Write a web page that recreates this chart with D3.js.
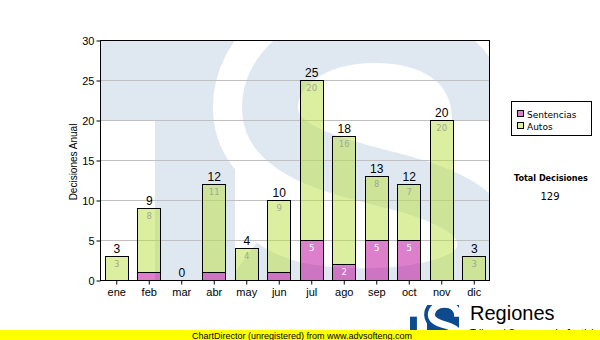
<!DOCTYPE html>
<html>
<head>
<meta charset="utf-8">
<script src="https://cdn.jsdelivr.net/npm/d3@7"></script>
<style>
  body { margin: 0; background: #fff; }
  svg { display: block; }
</style>
</head>
<body>
<svg id="chart" width="600" height="340"></svg>
<script>
// Monthly decisions, stacked by type
const months = ["ene", "feb", "mar", "abr", "may", "jun", "jul", "ago", "sep", "oct", "nov", "dic"];
const sentencias = [0, 1, 0, 1, 0, 1, 5, 2, 5, 5, 0, 0];
const autos = [3, 8, 0, 11, 4, 9, 20, 16, 8, 7, 20, 3];
const seriesNames = ["Sentencias", "Autos"];
const yTicks = [0, 5, 10, 15, 20, 25, 30];
const yTitle = "Decisiones Anual";
const totalTitle = "Total Decisiones";
const brandName = "Regiones";
const brandSub = "Tribunal Supremo de Justicia";
const footerText = "ChartDirector (unregistered) from www.advsofteng.com";

const rows = months.map((m, i) => ({ month: m, Sentencias: sentencias[i], Autos: autos[i] }));
const totals = rows.map(r => r.Sentencias + r.Autos);
const grandTotal = d3.sum(totals);

const svg = d3.select("#chart");
const plot = { left: 100, top: 40, right: 490, bottom: 280 };
const pw = plot.right - plot.left, ph = plot.bottom - plot.top;

const x = d3.scaleBand().domain(months).range([plot.left, plot.right])
  .paddingInner(0.3).paddingOuter(0.15);
const y = d3.scaleLinear().domain([0, 30]).range([plot.bottom, plot.top]);

const colors = {
  Sentencias: "rgba(188,0,150,0.5)",
  Autos: "rgba(186,222,64,0.5)"
};
const swatch = { Sentencias: "#dc7ecb", Autos: "#dcef9f" };

const SANS = "'Liberation Sans', Arial, sans-serif";
const VERD = "'DejaVu Sans', Verdana, sans-serif";

// ---- "TS" emblem in a 390 x 240 frame: letters in fg on a bg field ----
function emblem(g, ox, oy, w, h, fg, bg) {
  const sx = w / 390, sy = h / 240;
  const P = (a, b) => [ox + a * sx, oy + b * sy];
  g.append("rect").attr("x", ox).attr("y", oy).attr("width", w).attr("height", h).attr("fill", bg);
  // T: bar and stem
  g.append("rect").attr("x", ox).attr("y", oy)
    .attr("width", 200 * sx).attr("height", 80 * sy).attr("fill", fg);
  g.append("rect").attr("x", P(55, 0)[0]).attr("y", oy)
    .attr("width", 80 * sx).attr("height", 240 * sy).attr("fill", fg);
  // S spine
  const p = d3.path();
  const m = P(380, 80); p.moveTo(m[0], m[1]);
  const segs = [
    [[380, 20], [330, -5], [275, -5]],
    [[210, -5], [168, 30], [170, 70]],
    [[172, 110], [230, 125], [290, 140]],
    [[350, 155], [390, 175], [385, 210]],
    [[380, 250], [300, 260], [230, 255]],
    [[190, 252], [160, 240], [140, 225]]
  ];
  segs.forEach(s => {
    const a = P(...s[0]), b = P(...s[1]), c = P(...s[2]);
    p.bezierCurveTo(a[0], a[1], b[0], b[1], c[0], c[1]);
  });
  const k = Math.min(sx, sy);
  g.append("path").attr("d", p.toString()).attr("fill", "none")
    .attr("stroke", bg).attr("stroke-width", 114 * k);
  g.append("path").attr("d", p.toString()).attr("fill", "none")
    .attr("stroke", fg).attr("stroke-width", 56 * k);
}

// ---- plot background with emblem watermark ----
const defs = svg.append("defs");
defs.append("clipPath").attr("id", "plotClip")
  .append("rect").attr("x", plot.left).attr("y", plot.top).attr("width", pw).attr("height", ph);
defs.append("clipPath").attr("id", "logoClip")
  .append("rect").attr("x", 410).attr("y", 305).attr("width", 49).attr("height", 35);
const wm = svg.append("g").attr("clip-path", "url(#plotClip)");
emblem(wm, plot.left, plot.top, pw, ph, "#dfe8f1", "#ffffff");

// ---- gridlines ----
svg.append("g").selectAll("line").data(yTicks.filter(t => t > 0 && t < 30)).join("line")
  .attr("x1", plot.left).attr("x2", plot.right)
  .attr("y1", d => y(d) + 0.5).attr("y2", d => y(d) + 0.5)
  .attr("stroke", "#c0c0c0").attr("stroke-width", 1);

// ---- stacked bars ----
const stack = d3.stack().keys(seriesNames)(rows);
const barG = svg.append("g");
stack.forEach(layer => {
  const key = layer.key;
  const segs = layer.map((d, i) => ({ key, month: months[i], y0: d[0], y1: d[1], v: d[1] - d[0] }))
    .filter(d => d.v > 0);
  barG.append("g").selectAll("rect").data(segs).join("rect")
    .attr("x", d => Math.round(x(d.month)) + 0.5)
    .attr("y", d => y(d.y1) + 0.5)
    .attr("width", Math.round(x.bandwidth()))
    .attr("height", d => y(d.y0) - y(d.y1))
    .attr("fill", colors[key])
    .attr("stroke", "#000").attr("stroke-width", 1);
  // values inside each segment
  barG.append("g").selectAll("text").data(segs.filter(d => y(d.y0) - y(d.y1) >= 12)).join("text")
    .attr("x", d => x(d.month) + x.bandwidth() / 2 + 0.5)
    .attr("y", d => y(d.y1) + (key === "Autos" ? 11 : 10.5))
    .attr("text-anchor", "middle")
    .attr("font-family", VERD).attr("font-size", 8.5)
    .attr("fill", key === "Autos" ? "#a2a89a" : "#ffffff")
    .text(d => d.v);
});

// totals above bars
svg.append("g").selectAll("text").data(rows).join("text")
  .attr("x", d => x(d.month) + x.bandwidth() / 2 + 0.5)
  .attr("y", (d, i) => y(totals[i]) - 3)
  .attr("text-anchor", "middle")
  .attr("font-family", SANS).attr("font-size", 12).attr("fill", "#000")
  .text((d, i) => totals[i]);

// ---- plot frame ----
svg.append("rect").attr("x", plot.left + 0.5).attr("y", plot.top + 0.5)
  .attr("width", pw - 1).attr("height", ph)
  .attr("fill", "none").attr("stroke", "#000").attr("stroke-width", 1);

// ---- axes ----
const yAxis = d3.axisLeft(y).tickValues(yTicks).tickSize(4).tickSizeOuter(0).tickPadding(2);
const yg = svg.append("g").attr("transform", `translate(${plot.left + 0.5},0.5)`).call(yAxis);
yg.select(".domain").remove();
yg.selectAll("line").attr("stroke", "#000");
yg.selectAll("text").attr("font-family", SANS).attr("font-size", 11).attr("fill", "#000");

const xAxis = d3.axisBottom(x).tickSize(4).tickSizeOuter(0).tickPadding(4);
const xg = svg.append("g").attr("transform", `translate(0.5,${plot.bottom + 0.5})`).call(xAxis);
xg.select(".domain").remove();
xg.selectAll("line").attr("stroke", "#000");
xg.selectAll("text").attr("font-family", SANS).attr("font-size", 11).attr("fill", "#000");

// y title
svg.append("text")
  .attr("transform", `translate(77,${(plot.top + plot.bottom) / 2 + 2}) rotate(-90)`)
  .attr("text-anchor", "middle")
  .attr("font-family", SANS).attr("font-size", 10).attr("fill", "#000")
  .text(yTitle);

// ---- legend ----
const lg = svg.append("g");
lg.append("rect").attr("x", 511.5).attr("y", 101.5).attr("width", 80).attr("height", 34)
  .attr("fill", "#fff").attr("stroke", "#000");
seriesNames.forEach((name, i) => {
  const yy = 110 + i * 12;
  lg.append("rect").attr("x", 517.5).attr("y", yy + 0.5).attr("width", 6).attr("height", 6)
    .attr("fill", swatch[name]).attr("stroke", "#000");
  lg.append("text").attr("x", 527).attr("y", yy + 7.5)
    .attr("font-family", VERD).attr("font-size", 9).attr("fill", "#000").text(name);
});

// totals block
svg.append("text").attr("x", 551).attr("y", 181)
  .attr("text-anchor", "middle").attr("font-family", "'DejaVu Sans Condensed', 'DejaVu Sans', sans-serif")
  .attr("font-weight", "bold").attr("font-size", 9).attr("fill", "#000").text(totalTitle);
svg.append("text").attr("x", 550).attr("y", 200)
  .attr("text-anchor", "middle").attr("font-family", VERD)
  .attr("font-size", 10).attr("fill", "#000").text(grandTotal);

// ---- brand ----
const brand = svg.append("g");
emblem(brand.append("g").attr("clip-path", "url(#logoClip)"), 410, 305, 49, 35, "#ffffff", "#0d4a8f");
brand.append("text").attr("x", 470).attr("y", 320)
  .attr("font-family", SANS).attr("font-size", 20).attr("fill", "#000").text(brandName);
brand.append("text").attr("x", 470).attr("y", 337)
  .attr("font-family", SANS).attr("font-size", 10).attr("fill", "#000").text(brandSub);

// ---- footer band ----
svg.append("rect").attr("x", 0).attr("y", 330).attr("width", 600).attr("height", 10).attr("fill", "#ffff00");
svg.append("text").attr("x", 192).attr("y", 338.5)
  .attr("font-family", SANS).attr("font-size", 9).attr("fill", "#000").text(footerText);
</script>
</body>
</html>
